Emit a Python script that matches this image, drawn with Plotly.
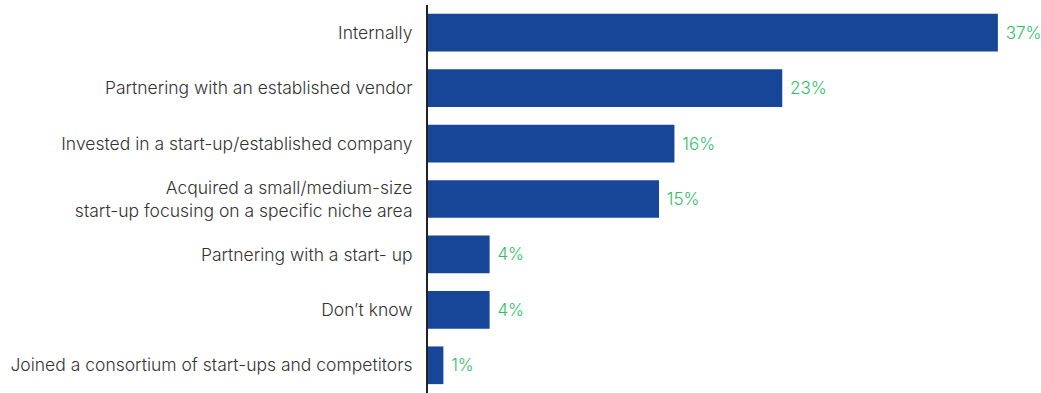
import plotly.graph_objects as go

# Survey responses: how organisations have pursued the capability
categories = [
    "Internally",
    "Partnering with an established vendor",
    "Invested in a start-up/established company",
    "Acquired a small/medium-size<br>start-up focusing on a specific niche area",
    "Partnering with a start- up",
    "Don’t know",
    "Joined a consortium of start-ups and competitors",
]
shares = [37, 23, 16, 15, 4, 4, 1]
value_labels = [f" {v}%" for v in shares]

BAR_BLUE = "#174597"
LABEL_GREEN = "#2fbf67"
TEXT_GREY = "#333333"
FONT = "Inter"

fig = go.Figure(
    go.Bar(
        x=shares,
        y=categories,
        orientation="h",
        marker=dict(color=BAR_BLUE, line=dict(width=0)),
        text=value_labels,
        textposition="outside",
        textfont=dict(family=FONT, size=17, color=LABEL_GREEN, weight=300),
        cliponaxis=False,
        hoverinfo="skip",
    )
)

fig.update_layout(
    width=1041,
    height=393,
    margin=dict(l=428, r=0, t=5, b=0),
    paper_bgcolor="white",
    plot_bgcolor="white",
    bargap=0.32,
    showlegend=False,
    font=dict(family=FONT, size=17.5, color=TEXT_GREY, weight=300),
)

fig.update_xaxes(
    range=[0, 39.8],
    visible=False,
    showgrid=False,
    zeroline=False,
)

fig.update_yaxes(
    autorange="reversed",
    showgrid=False,
    zeroline=False,
    showline=True,
    linecolor="#222222",
    linewidth=2,
    ticks="",
    ticklabelstandoff=10,
    tickfont=dict(family=FONT, size=17.5, color=TEXT_GREY, weight=300),
)

fig.write_html("out.html")
